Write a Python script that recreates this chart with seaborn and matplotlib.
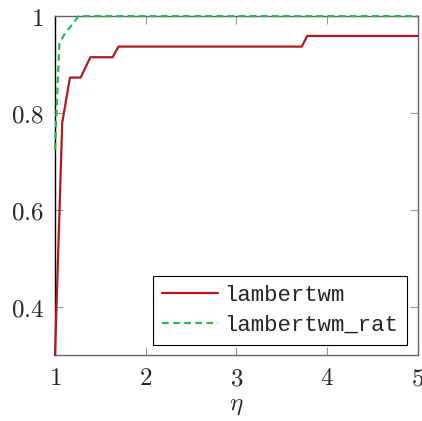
import matplotlib
matplotlib.use("Agg")
import matplotlib.pyplot as plt
import seaborn as sns
import pandas as pd

# Fraction of problems solved within a factor eta of the best solver
eta_lambertwm = [1.0, 1.08, 1.165, 1.283, 1.39, 1.635, 1.70, 3.72, 3.78, 5.0]
rho_lambertwm = [0.30, 0.78, 0.873, 0.873, 0.915, 0.915, 0.937, 0.937, 0.959, 0.959]

eta_rat = [1.0, 1.048, 1.11, 1.2, 1.26, 5.0]
rho_rat = [0.724, 0.944, 0.964, 0.985, 1.0, 1.0]

series_names = ["lambertwm", "lambertwm_rat"]
x_ticks = [1, 2, 3, 4, 5]
y_ticks = [0.4, 0.6, 0.8, 1.0]
y_tick_labels = ["0.4", "0.6", "0.8", "1"]

sns.set_style("white")
plt.rcParams["mathtext.fontset"] = "cm"

df = pd.concat([
    pd.DataFrame({"eta": eta_lambertwm, "rho": rho_lambertwm, "solver": series_names[0]}),
    pd.DataFrame({"eta": eta_rat, "rho": rho_rat, "solver": series_names[1]}),
])

fig = plt.figure(figsize=(4.22, 4.21), dpi=100)
ax = fig.add_axes([0.1303, 0.1568, 0.860, 0.805])

palette = {series_names[0]: "#b01a1a", series_names[1]: "#1fbf4f"}
sns.lineplot(data=df, x="eta", y="rho", hue="solver", style="solver",
             palette=palette, dashes={series_names[0]: "", series_names[1]: (3, 2)},
             linewidth=1.6, ax=ax, legend=False, estimator=None, sort=False)
for line in ax.lines:
    line.set_clip_on(False)
    line.set_zorder(5)

ax.set_xlim(1, 5)
ax.set_ylim(0.3, 1.0)
ax.set_xticks(x_ticks)
ax.set_xticklabels([f"${t}$" for t in x_ticks], fontsize=18)
ax.set_yticks(y_ticks)
ax.set_yticklabels([f"${t}$" for t in y_tick_labels], fontsize=18)
ax.tick_params(direction="in", length=6, width=0.8, color="#999999",
               top=True, right=True, bottom=True, left=True, pad=8)
ax.set_xlabel(r"$\eta$", fontsize=18, labelpad=2)
ax.set_ylabel("")

for side in ["top", "right", "bottom"]:
    ax.spines[side].set_color("#666666")
    ax.spines[side].set_linewidth(1.0)
ax.spines["left"].set_color("black")
ax.spines["left"].set_linewidth(1.0)

handles = [
    plt.Line2D([], [], color=palette[series_names[0]], lw=1.6),
    plt.Line2D([], [], color=palette[series_names[1]], lw=1.6, ls=(0, (3, 2))),
]
leg = ax.legend(handles, series_names, loc="lower right",
                bbox_to_anchor=(0.97, 0.03), prop={"family": "Liberation Mono", "size": 16},
                frameon=True, fancybox=False, edgecolor="black", framealpha=1,
                handlelength=2.5, handletextpad=0.3, borderpad=0.4, labelspacing=0.4,
                borderaxespad=0)
leg.set_zorder(6)
leg.get_frame().set_linewidth(0.8)

fig.savefig("out.png", dpi=100)
